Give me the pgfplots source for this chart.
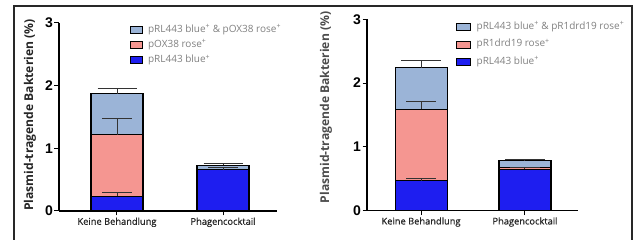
\documentclass[border=0pt]{standalone}
\usepackage{pgfplots}
\pgfplotsset{compat=1.18}
\usepackage{fontspec}
\setmainfont{Liberation Sans}
\newfontfamily\lab{Open Sans}
\newfontfamily\labm[FakeBold=0.6]{Open Sans}
\definecolor{cLight}{RGB}{155,180,215}
\definecolor{cRose}{RGB}{245,150,145}
\definecolor{cBlue}{RGB}{30,30,240}
\definecolor{cFrame}{RGB}{40,40,40}
\pgfplotsset{
  mybase/.style={
    scale only axis,
    ymin=0, ymax=3, ytick={0,1,2,3},
    axis x line*=bottom, axis y line*=left,
    xtick={0,1}, xticklabels={Keine Behandlung, Phagencocktail},
    tick align=outside, major tick length=4.5pt,
    every tick/.style={black, line width=1pt},
    axis line style={line width=1.1pt, black},
    /pgf/number format/assume math mode=true,
    yticklabel style={font=\bfseries\fontsize{14}{14}\selectfont, inner sep=1.5pt},
    xticklabel style={font=\labm\fontsize{9.3}{11}\selectfont, inner sep=2pt, text=black!85},
    ylabel={Plasmid-tragende Bakterien (\%)},
  },
  mybars/.style={
    ybar stacked, bar width=52pt,
    reverse legend,
    legend image code/.code={\draw[##1, line width=0.8pt] (0pt,-3.5pt) rectangle (12pt,3.5pt);},
    legend cell align=left,
  },
  myerr/.style={
    scale only axis, hide axis,
    ymin=0, ymax=3,
  },
  errstyle/.style={
    draw=none, mark=none,
    error bars/.cd, y dir=plus, y explicit,
    error bar style={draw=black!80, line width=1pt},
    error mark options={draw=black!80, line width=1pt, rotate=90, mark size=#1},
  },
}
\begin{document}
\begin{tikzpicture}[x=1pt,y=1pt]
\useasboundingbox (0,0) rectangle (637,240);
\draw[line width=1.2pt, cFrame] (14,-10) -- (14,234) -- (632,234) -- (632,-10);
% ---------------- left panel
\begin{axis}[mybase, mybars, at={(59pt,29pt)}, anchor=south west,
  width=218pt, height=188pt, xmin=-0.547, xmax=1.509,
  ylabel style={at={(axis description cs:-0.133,0.51)}, anchor=center,
    font=\lab\bfseries\fontsize{12.1}{12.1}\selectfont, text=black!85},
  legend style={draw=none, fill=none, inner sep=0pt, at={(0.326,0.99)}, anchor=north west,
    font=\lab\fontsize{10}{10}\selectfont, text=black!50, row sep=6.3pt,
    nodes={inner sep=0pt, text height=7pt, text depth=2pt}},
]
\addplot[fill=cBlue, draw=black, line width=1.1pt] coordinates {(0,0.235) (1,0.66)};
\addplot[fill=cRose, draw=black, line width=1.1pt] coordinates {(0,0.985) (1,0.005)};
\addplot[fill=cLight, draw=black, line width=1.1pt] coordinates {(0,0.65) (1,0.065)};
\legend{\hspace{5pt}pRL443 blue\textsuperscript{+},\hspace{5pt}pOX38 rose\textsuperscript{+},\hspace{5pt}pRL443 blue\textsuperscript{+} \& pOX38 rose\textsuperscript{+}}
\end{axis}
\begin{axis}[myerr, at={(59pt,29pt)}, anchor=south west,
  width=218pt, height=188pt, xmin=-0.547, xmax=1.509]
\addplot[errstyle=15pt] coordinates {
  (0,0.235) +- (0,0.055)
  (0,1.22) +- (0,0.25)
  (1,0.66) +- (0,0.04)
};
\addplot[errstyle=19.5pt] coordinates {
  (0,1.87) +- (0,0.09)
  (1,0.73) +- (0,0.02)
};
\end{axis}
% ---------------- right panel
\begin{axis}[mybase, mybars, at={(367pt,29.3pt)}, anchor=south west,
  width=211pt, height=191.4pt, xmin=-0.52, xmax=1.51,
  ylabel style={at={(axis description cs:-0.194,0.54)}, anchor=center,
    font=\lab\bfseries\fontsize{12.1}{12.1}\selectfont, text=black!70},
  legend style={draw=none, fill=none, inner sep=0pt, at={(0.42,0.985)}, anchor=north west,
    font=\lab\fontsize{10}{10}\selectfont, text=black!50, row sep=8.6pt,
    nodes={inner sep=0pt, text height=7pt, text depth=2pt}},
  legend image code/.code={\draw[#1, line width=0.8pt] (0pt,-3.5pt) rectangle (14pt,3.5pt);},
]
\addplot[fill=cBlue, draw=black, line width=1.1pt] coordinates {(0,0.47) (1,0.65)};
\addplot[fill=cRose, draw=black, line width=1.1pt] coordinates {(0,1.12) (1,0.03)};
\addplot[fill=cLight, draw=black, line width=1.1pt] coordinates {(0,0.65) (1,0.10)};
\legend{\hspace{6pt}pRL443 blue\textsuperscript{+},\hspace{6pt}pR1drd19 rose\textsuperscript{+},\hspace{6pt}pRL443 blue\textsuperscript{+} \& pR1drd19 rose\textsuperscript{+}}
\end{axis}
\begin{axis}[myerr, at={(367pt,29.3pt)}, anchor=south west,
  width=211pt, height=191.4pt, xmin=-0.52, xmax=1.51]
\addplot[errstyle=15pt] coordinates {
  (0,0.47) +- (0,0.03)
  (0,1.59) +- (0,0.12)
  (1,0.65) +- (0,0.02)
};
\addplot[errstyle=20pt] coordinates {
  (0,2.24) +- (0,0.11)
  (1,0.78) +- (0,0.02)
};
\end{axis}
\end{tikzpicture}
\end{document}
